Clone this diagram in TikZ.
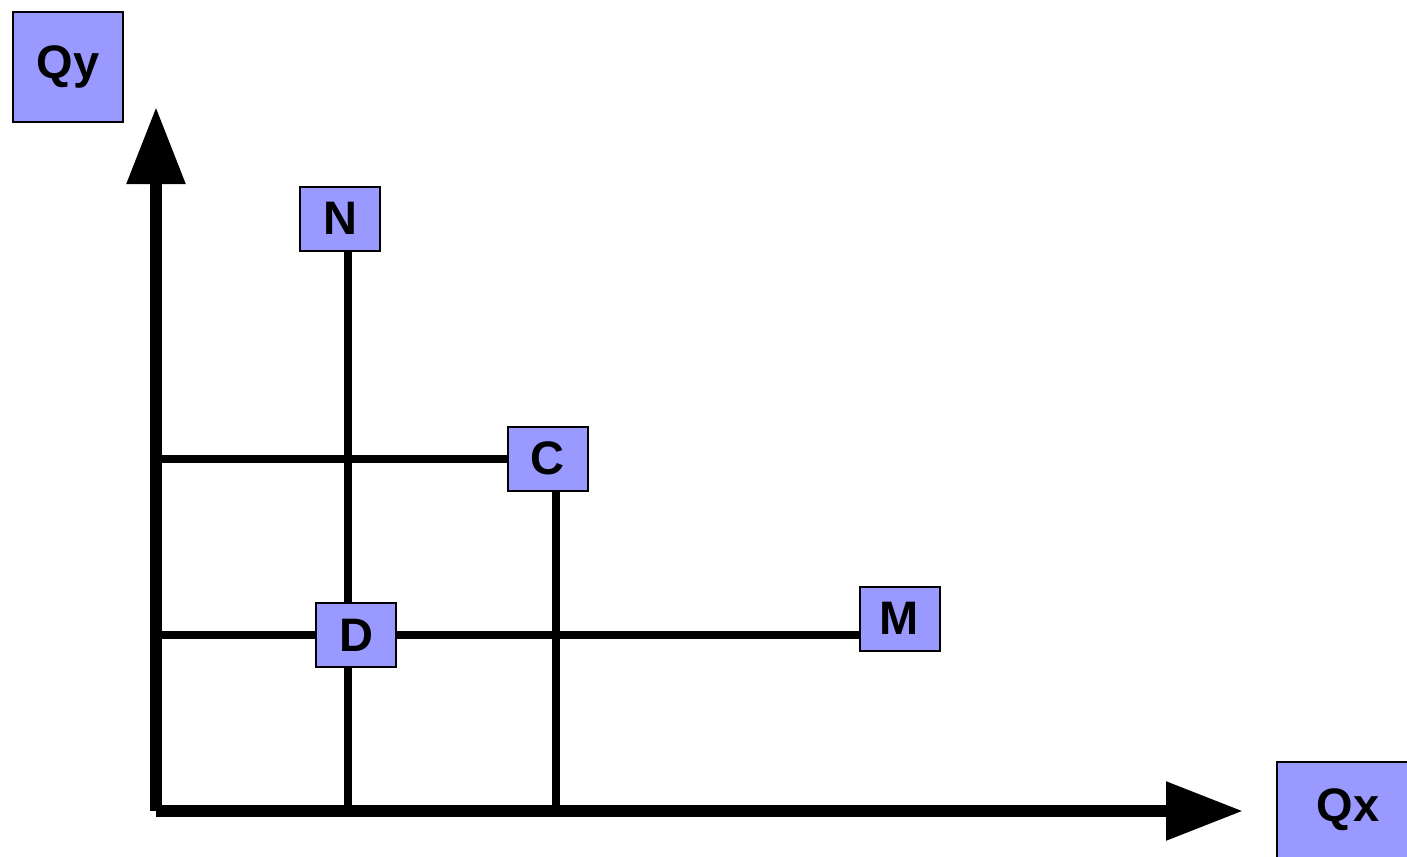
\documentclass[tikz,border=0pt]{standalone}
\usepackage{fontspec}
\setmainfont{Liberation Sans}
\usetikzlibrary{arrows.meta,backgrounds}
\definecolor{boxblue}{RGB}{153,153,255}
\tikzset{
  lbl/.style={draw=black, line width=2pt, fill=boxblue, inner sep=0pt,
    minimum width=80pt, minimum height=64pt,
    font=\fontsize{47}{47}\selectfont\bfseries},
  axis/.style={line width=12pt, line cap=butt, -{Triangle[length=77pt,width=56pt]}},
  link/.style={line width=8pt, line cap=butt}
}
\begin{document}
\begin{tikzpicture}[x=1pt,y=-1pt]
\clip (0,0) rectangle (1407,856);
\useasboundingbox (0,0) rectangle (1407,856);
% labels
\node[lbl, minimum width=110pt, minimum height=110pt] (qy) at (68,67) {Qy};
\node[lbl, minimum width=142pt, minimum height=96pt] (qx) at (1348,810) {Qx};
\node[lbl] (N) at (340,218.5) {N};
\node[lbl] (C) at (547.5,458.5) {C};
\node[lbl] (D) at (356,635) {D};
\node[lbl] (M) at (899.5,618.5) {M};
% axes
\coordinate (O) at (156,811);
\coordinate (ytip) at (156,107);
\coordinate (xtip) at (1243,811);
\begin{scope}[on background layer]
\draw[axis] (O) -- (ytip);
\draw[axis] (O) -- (xtip);
\draw[link] ([xshift=8pt]N.south) -- ([xshift=8pt]N.south |- O);
\draw[link] (C.west -| O) -- (C.west);
\draw[link] ([xshift=8pt]C.south) -- ([xshift=8pt]C.south |- O);
\draw[link] ([yshift=-16pt]M.west -| O) -- ([yshift=-16pt]M.west);
\end{scope}
\end{tikzpicture}
\end{document}
